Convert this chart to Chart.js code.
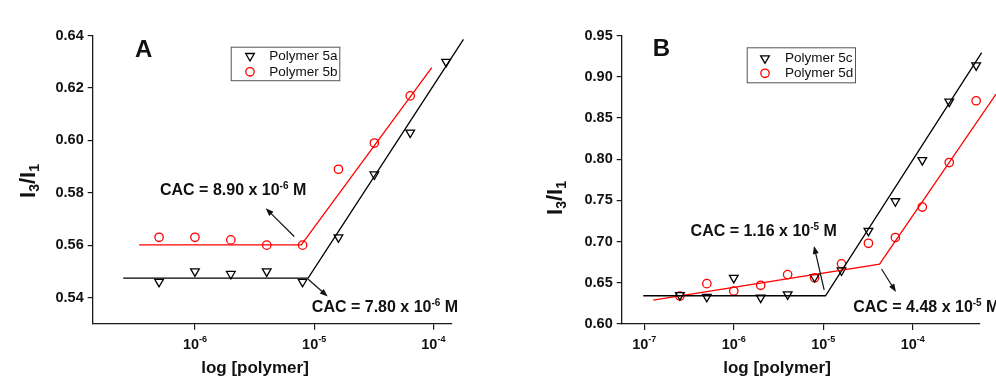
<!DOCTYPE html>
<html>
<head>
<meta charset="utf-8">
<script src="https://cdn.jsdelivr.net/npm/chart.js@4.4.1/dist/chart.umd.min.js"></script>
<style>
  html, body { margin: 0; padding: 0; background: #fff; }
  #wrap { position: relative; width: 996px; height: 379px; overflow: hidden; }
  .panel { position: absolute; top: 0; height: 379px; }
</style>
</head>
<body>
<div id="wrap">
  <div class="panel" style="left:0;width:500px"><canvas id="chartA"></canvas></div>
  <div class="panel" style="left:500px;width:496px"><canvas id="chartB"></canvas></div>
</div>
<script>
// panel A - concentrations (M) and I3/I1 ratios
const concA = [5e-7, 1e-6, 2e-6, 4e-6, 8e-6, 1.6e-5, 3.2e-5, 6.4e-5, 1.28e-4];
const polymer5a = [0.546, 0.550, 0.549, 0.550, 0.546, 0.563, 0.587, 0.603, 0.630];
const polymer5b = [0.563, 0.563, 0.562, 0.560, 0.560, 0.589, 0.599, 0.617];
// fitted lines (x, y)
const fit5a = [[2.5e-7, 0.5474], [8.9e-6, 0.5474], [1.79e-4, 0.6386]];
const fit5b = [[3.4e-7, 0.5601], [7.8e-6, 0.5601], [9.7e-5, 0.6278]];
const xTicksA = [1e-6, 1e-5, 1e-4];
const yTicksA = [0.54, 0.56, 0.58, 0.60, 0.62, 0.64];
const cacA = [
  { x: 5.09e-7, y: 0.5815, base: 'CAC = 8.90 x 10', exp: '-6' },
  { x: 9.57e-6, y: 0.5368, base: 'CAC = 7.80 x 10', exp: '-6' }
];
const arrowsA = [
  [[6.81e-6, 0.5633], [3.92e-6, 0.5741]],
  [[8.91e-6, 0.5470], [1.30e-5, 0.5404]]
];

// panel B
const concB = [2.5e-7, 5e-7, 1e-6, 2e-6, 4e-6, 8e-6, 1.6e-5, 3.2e-5, 6.4e-5, 1.28e-4, 2.56e-4, 5.12e-4];
const polymer5c = [0.635, 0.633, 0.656, 0.632, 0.636, 0.657, 0.665, 0.713, 0.749, 0.799, 0.870, 0.914];
const polymer5d = [0.634, 0.649, 0.640, 0.647, 0.660, 0.656, 0.673, 0.698, 0.705, 0.742, 0.796, 0.871];
const fit5c = [[9.75e-8, 0.6343], [1.06e-5, 0.6343], [5.9e-4, 0.9294]];
const fit5d = [[1.26e-7, 0.6291], [4.26e-5, 0.6728], [8.5e-4, 0.8789]];
const xTicksB = [1e-7, 1e-6, 1e-5, 1e-4];
const yTicksB = [0.60, 0.65, 0.70, 0.75, 0.80, 0.85, 0.90, 0.95];
const cacB = [
  { x: 3.29e-7, y: 0.7141, base: 'CAC = 1.16 x 10', exp: '-5' },
  { x: 2.16e-5, y: 0.6218, base: 'CAC = 4.48 x 10', exp: '-5' }
];
const arrowsB = [
  [[1.024e-5, 0.6413], [7.88e-6, 0.6947]],
  [[4.48e-5, 0.6668], [6.5e-5, 0.6389]]
];

const FONT = 'Arial, "Liberation Sans", Helvetica, sans-serif';
const INK = '#111';
const AXIS = '#1a1a1a';
const RED = '#ff0000';

function bold(size) { return 'bold ' + size + 'px ' + FONT; }

// draws text runs (for sub/superscripts) one after another
function drawParts(ctx, parts, x, y, align) {
  let w = 0;
  parts.forEach(p => { ctx.font = p.font; w += ctx.measureText(p.t).width; });
  let cx = align === 'center' ? x - w / 2 : x;
  parts.forEach(p => {
    ctx.font = p.font;
    ctx.fillText(p.t, cx, y + (p.dy || 0));
    cx += ctx.measureText(p.t).width;
  });
}

function drawArrow(ctx, x1, y1, x2, y2) {
  const a = Math.atan2(y2 - y1, x2 - x1);
  const len = 8, half = 3;
  ctx.beginPath();
  ctx.moveTo(x1, y1);
  ctx.lineTo(x2 - Math.cos(a) * len * 0.7, y2 - Math.sin(a) * len * 0.7);
  ctx.stroke();
  ctx.beginPath();
  ctx.moveTo(x2, y2);
  ctx.lineTo(x2 - Math.cos(a) * len + Math.sin(a) * half, y2 - Math.sin(a) * len - Math.cos(a) * half);
  ctx.lineTo(x2 - Math.cos(a) * len - Math.sin(a) * half, y2 - Math.sin(a) * len + Math.cos(a) * half);
  ctx.closePath();
  ctx.fill();
}

function drawMarker(ctx, style, color, x, y) {
  ctx.strokeStyle = color;
  ctx.lineWidth = 1.3;
  ctx.beginPath();
  if (style === 'triangle') {
    const r = 5, s = r * Math.sin(Math.PI / 3);
    ctx.moveTo(x, y + r);
    ctx.lineTo(x - s, y - r / 2);
    ctx.lineTo(x + s, y - r / 2);
    ctx.closePath();
  } else {
    ctx.arc(x, y, 4.2, 0, Math.PI * 2);
  }
  ctx.stroke();
}

function makeDecor(o) {
  return {
    id: 'panelDecor',
    afterDraw(chart) {
      const ctx = chart.ctx, xs = chart.scales.x, ys = chart.scales.y;
      ctx.save();
      ctx.fillStyle = INK;
      ctx.strokeStyle = INK;
      ctx.textBaseline = 'alphabetic';
      ctx.textAlign = 'left';

      // x tick labels as powers of ten
      o.xTicks.forEach(v => {
        const e = Math.round(Math.log10(v));
        drawParts(ctx, [
          { t: '10', font: bold(14.5) },
          { t: String(e), font: bold(9), dy: -7 }
        ], xs.getPixelForValue(v), 349, 'center');
      });

      // axis titles
      ctx.font = bold(17);
      ctx.textAlign = 'center';
      ctx.fillText('log [polymer]', o.xTitle[0], o.xTitle[1]);
      ctx.textAlign = 'left';

      ctx.save();
      ctx.translate(o.yTitle[0], o.yTitle[1]);
      ctx.rotate(-Math.PI / 2);
      drawParts(ctx, [
        { t: 'I', font: bold(22) },
        { t: '3', font: bold(14), dy: 4 },
        { t: '/I', font: bold(22) },
        { t: '1', font: bold(14), dy: 4 }
      ], 0, 0, 'center');
      ctx.restore();

      // panel letter
      ctx.font = bold(24);
      ctx.fillText(o.letter, o.letterPos[0], o.letterPos[1]);

      // CAC labels and arrows
      o.cac.forEach(c => {
        drawParts(ctx, [
          { t: c.base, font: bold(16) },
          { t: c.exp, font: bold(10), dy: -6 },
          { t: ' M', font: bold(16) }
        ], xs.getPixelForValue(c.x), ys.getPixelForValue(c.y) + 6, 'left');
      });
      ctx.lineWidth = 1.2;
      o.arrows.forEach(([p, q]) => {
        drawArrow(ctx, xs.getPixelForValue(p[0]), ys.getPixelForValue(p[1]),
          xs.getPixelForValue(q[0]), ys.getPixelForValue(q[1]));
      });

      // legend box
      const b = o.legend.box;
      ctx.fillStyle = '#fff';
      ctx.fillRect(b[0], b[1], b[2], b[3]);
      ctx.strokeStyle = '#555';
      ctx.lineWidth = 1;
      ctx.strokeRect(b[0] + 0.5, b[1] + 0.5, b[2], b[3]);
      ctx.font = '13.5px ' + FONT;
      ctx.textBaseline = 'middle';
      o.legend.rows.forEach(r => {
        drawMarker(ctx, r.style, r.color, o.legend.markerX, r.y);
        ctx.fillStyle = INK;
        ctx.fillText(r.text, o.legend.textX, r.y);
      });
      ctx.restore();
    }
  };
}

function points(xs, ys) {
  return ys.map((y, i) => ({ x: xs[i], y: y }));
}

function markerSet(label, data, style, color) {
  return {
    label: label,
    data: data,
    showLine: false,
    clip: false,
    pointStyle: style,
    pointRotation: style === 'triangle' ? 180 : 0,
    pointRadius: style === 'triangle' ? 5 : 4.2,
    pointHoverRadius: style === 'triangle' ? 5 : 4.2,
    pointBorderColor: color,
    pointBackgroundColor: 'rgba(0,0,0,0)',
    pointBorderWidth: 1.3
  };
}

function fitSet(data, color) {
  return {
    label: 'fit',
    data: data.map(p => ({ x: p[0], y: p[1] })),
    showLine: true,
    borderColor: color,
    borderWidth: 1.3,
    pointRadius: 0,
    fill: false,
    clip: false
  };
}

function makeChart(id, p) {
  const tickGrid = { display: true, drawOnChartArea: false, drawTicks: true, color: AXIS, lineWidth: 1.2 };
  return new Chart(document.getElementById(id), {
    type: 'scatter',
    data: { datasets: p.datasets },
    options: {
      responsive: true,
      maintainAspectRatio: false,
      animation: false,
      events: [],
      layout: { padding: { top: p.area.top, right: p.width - p.area.right, left: 0, bottom: 0 } },
      scales: {
        x: {
          type: 'logarithmic',
          bounds: 'data',
          min: p.xRange[0],
          max: p.xRange[1],
          afterBuildTicks: s => { s.ticks = p.xTicks.map(v => ({ value: v })); },
          afterFit: s => { s.height = 379 - p.area.bottom; },
          ticks: { display: false },
          grid: Object.assign({ tickLength: 6 }, tickGrid),
          border: { display: true, color: AXIS, width: 1.3 }
        },
        y: {
          type: 'linear',
          bounds: 'data',
          min: p.yRange[0],
          max: p.yRange[1],
          afterBuildTicks: s => { s.ticks = p.yTicks.map(v => ({ value: v })); },
          afterFit: s => { s.width = p.area.left; },
          ticks: {
            color: INK,
            padding: 4,
            font: { family: FONT, size: 14.5, weight: 'bold' },
            callback: v => Number(v).toFixed(2)
          },
          grid: Object.assign({ tickLength: 5 }, tickGrid),
          border: { display: true, color: AXIS, width: 1.3 }
        }
      },
      plugins: { legend: { display: false }, tooltip: { enabled: false } }
    },
    plugins: [makeDecor(p.decor)]
  });
}

makeChart('chartA', {
  width: 500,
  area: { left: 92.7, right: 451.7, top: 35.7, bottom: 323.7 },
  xRange: [1.387e-7, 1.426e-4],
  yRange: [0.530, 0.64],
  xTicks: xTicksA,
  yTicks: yTicksA,
  datasets: [
    fitSet(fit5a, '#000'),
    fitSet(fit5b, RED),
    markerSet('Polymer 5a', points(concA, polymer5a), 'triangle', '#000'),
    markerSet('Polymer 5b', points(concA, polymer5b), 'circle', RED)
  ],
  decor: {
    xTicks: xTicksA,
    xTitle: [255, 373],
    yTitle: [35, 181],
    letter: 'A',
    letterPos: [135, 57],
    cac: cacA,
    arrows: arrowsA,
    legend: {
      box: [230.7, 46.7, 108.6, 33.5],
      markerX: 250,
      textX: 269.3,
      rows: [
        { style: 'triangle', color: '#000', text: 'Polymer 5a', y: 56 },
        { style: 'circle', color: RED, text: 'Polymer 5b', y: 71.8 }
      ]
    }
  }
});

makeChart('chartB', {
  width: 496,
  area: { left: 121.7, right: 479.3, top: 35.7, bottom: 324 },
  xRange: [5.59e-8, 5.55e-4],
  yRange: [0.60, 0.95],
  xTicks: xTicksB,
  yTicks: yTicksB,
  datasets: [
    fitSet(fit5c, '#000'),
    fitSet(fit5d, RED),
    markerSet('Polymer 5c', points(concB, polymer5c), 'triangle', '#000'),
    markerSet('Polymer 5d', points(concB, polymer5d), 'circle', RED)
  ],
  decor: {
    xTicks: xTicksB,
    xTitle: [277, 373],
    yTitle: [61.7, 198],
    letter: 'B',
    letterPos: [152.7, 56],
    cac: cacB,
    arrows: arrowsB,
    legend: {
      box: [246.7, 47.3, 108.3, 35],
      markerX: 265,
      textX: 285,
      rows: [
        { style: 'triangle', color: '#000', text: 'Polymer 5c', y: 58.3 },
        { style: 'circle', color: RED, text: 'Polymer 5d', y: 73.3 }
      ]
    }
  }
});
</script>
</body>
</html>
